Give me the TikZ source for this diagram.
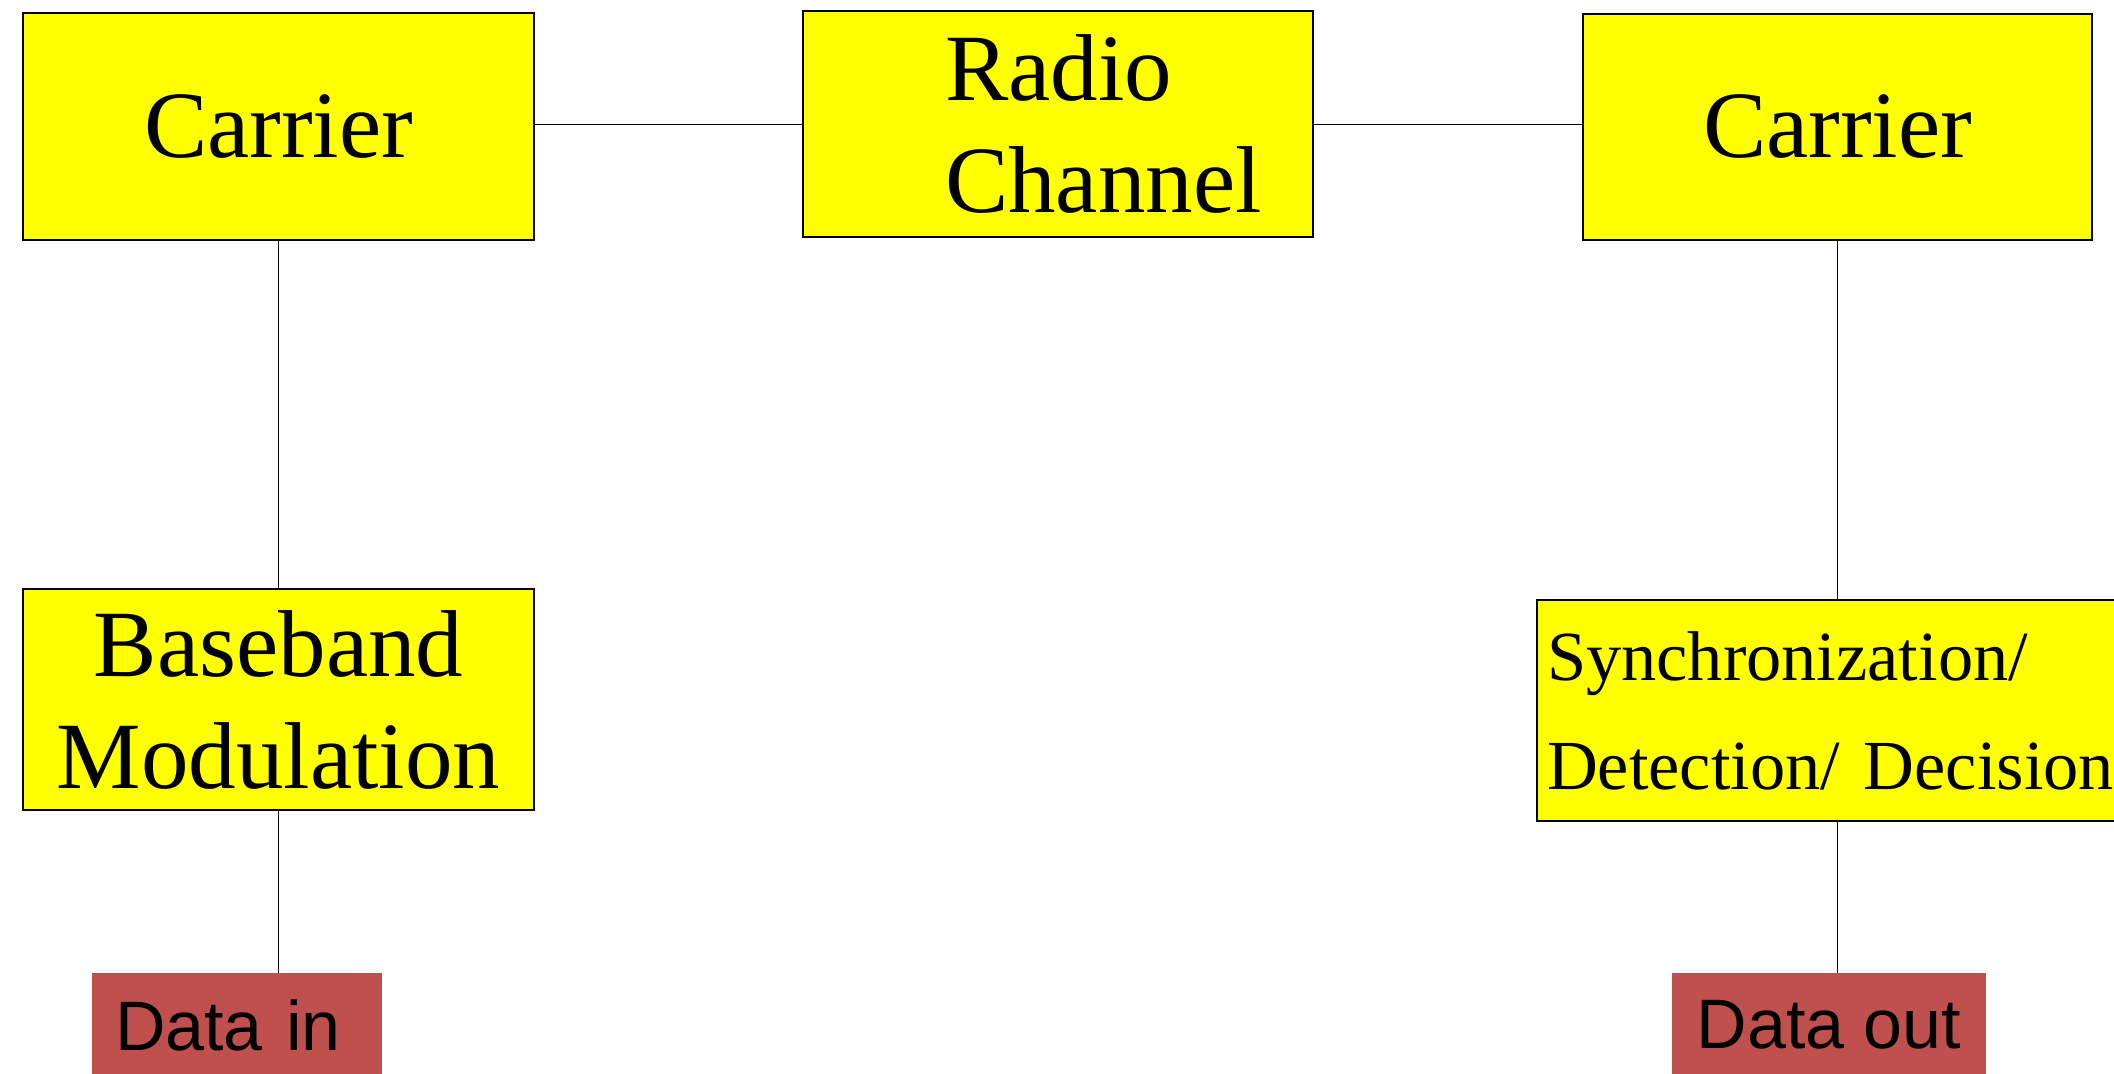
\documentclass[tikz,border=0pt]{standalone}
\usepackage{fontspec}
\setmainfont{Liberation Serif}
\setsansfont{Liberation Sans}
\usepackage{tikz}
\usetikzlibrary{arrows}
\definecolor{cyellow}{rgb}{1, 1, 0}
\definecolor{cred}{RGB}{192, 80, 77}

\begin{document}
\begin{tikzpicture}[-,x=0.5pt,y=-0.5pt,
  block node/.style={rectangle,fill=cyellow,draw,line width=0.75pt,inner sep=0pt,
    font=\fontsize{47.5}{56}\selectfont},
  data node/.style={rectangle,fill=cred,inner sep=0pt,
    font=\sffamily\fontsize{35}{42}\selectfont}]
  \useasboundingbox (0,0) rectangle (2114,1073);
  \clip (0,0) rectangle (2114,1073);

  \node[block node,minimum width=255.5pt,minimum height=113.5pt] (1) at (278.5,126.5) {Carrier};
  \node[block node,minimum width=255pt,minimum height=113pt,text width=113pt,align=left] (2) at (1058,124) {Radio\\Channel};
  \node[block node,minimum width=254.5pt,minimum height=113pt] (3) at (1837.5,127) {Carrier};
  \node[block node,minimum width=255.5pt,minimum height=110.5pt,align=center] (4) at (278.5,699.5) {Baseband\\Modulation};
  \node[block node,minimum width=300pt,minimum height=110.5pt,text width=290pt,align=left,
    font=\fontsize{35.2}{54.5}\selectfont] (5) at (1837,710.5) {Synchronization/\\Detection/ Decision};
  \node[data node,minimum width=145pt,minimum height=52pt,text width=122pt,align=left] (6) at (237,1025) {Data in};
  \node[data node,minimum width=157pt,minimum height=52pt] (7) at (1829,1025) {Data out};

  \path[line width=0.5pt]
    (2.west -| 1.east) edge (2.west)
    (2.east) edge (2.east -| 3.west)
    (1.south) edge (4.north)
    (4.south) edge (4.south |- 6.north)
    (3.south) edge (5.north -| 3.south)
    (5.south -| 3.south) edge (3.south |- 7.north);
\end{tikzpicture}
\end{document}
